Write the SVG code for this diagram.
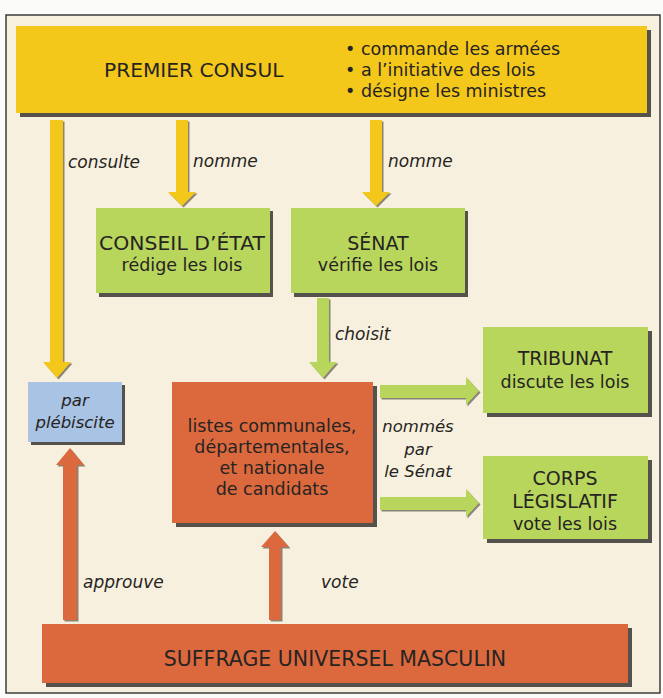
<svg xmlns="http://www.w3.org/2000/svg" width="663" height="698" viewBox="0 0 663 698">
<style>
text{font-family:"DejaVu Sans","Liberation Sans",sans-serif;fill:#262422;}
.t{font-size:19px;text-anchor:middle;}
.r{font-size:17.5px;text-anchor:middle;}
.i{font-size:17px;font-style:italic;}
.ic{font-size:16.5px;font-style:italic;text-anchor:middle;}
.b1{font-size:17.5px;}
.sh{fill:#55524e;}
.y{fill:#f4c71b;}
.g{fill:#b8d65c;}
.o{fill:#dc693e;}
.b{fill:#a9c3e4;}
.ash{fill:#8a8478;}
</style>
<rect x="0" y="0" width="663" height="698" fill="#fbfbfa"/>
<rect x="6" y="15" width="654" height="678" fill="#f7f0de" stroke="#3f3d3b" stroke-width="1.5"/>

<g id="connectors">
  <g transform="translate(1.5,1.5)" class="ash">
    <polygon points="50,120 63,120 63,362 71,362 57,378 43,362 50,362"/>
    <polygon points="176,120 188,120 188,192 196,192 182,206 168,192 176,192"/>
    <polygon points="370,120 382,120 382,192 390,192 376,206 362,192 370,192"/>
    <polygon points="317,298 329,298 329,362 337,362 323,378 309,362 317,362"/>
    <polygon points="380,385 466,385 466,377 479,391 466,405 466,398 380,398"/>
    <polygon points="380,497 466,497 466,489 479,503 466,517 466,510 380,510"/>
    <polygon points="63,620 77,620 77,465 84,465 70,448 56,465 63,465"/>
    <polygon points="269,620 281,620 281,547 289,547 275,531 261,547 269,547"/>
  </g>
  <polygon class="y" points="50,120 63,120 63,362 71,362 57,378 43,362 50,362"/>
  <polygon class="y" points="176,120 188,120 188,192 196,192 182,206 168,192 176,192"/>
  <polygon class="y" points="370,120 382,120 382,192 390,192 376,206 362,192 370,192"/>
  <polygon class="g" points="317,298 329,298 329,362 337,362 323,378 309,362 317,362"/>
  <polygon class="g" points="380,385 466,385 466,377 479,391 466,405 466,398 380,398"/>
  <polygon class="g" points="380,497 466,497 466,489 479,503 466,517 466,510 380,510"/>
  <polygon class="o" points="63,620 77,620 77,465 84,465 70,448 56,465 63,465"/>
  <polygon class="o" points="269,620 281,620 281,547 289,547 275,531 261,547 269,547"/>
  <text class="i" x="68" y="168">consulte</text>
  <text class="i" x="193" y="167">nomme</text>
  <text class="i" x="388" y="167">nomme</text>
  <text class="i" x="335" y="340">choisit</text>
  <text class="ic" x="418" y="432">nommés</text>
  <text class="ic" x="418" y="455">par</text>
  <text class="ic" x="418" y="477">le Sénat</text>
  <text class="i" x="83" y="588">approuve</text>
  <text class="i" x="321" y="588">vote</text>
</g>

<g id="premier-consul">
  <rect class="sh" x="20" y="30" width="631" height="87"/>
  <rect class="y" x="16" y="26" width="631" height="87"/>
  <text x="104" y="77" font-size="20.2">PREMIER CONSUL</text>
  <text class="b1" x="345" y="55">• commande les armées</text>
  <text class="b1" x="345" y="76">• a l’initiative des lois</text>
  <text class="b1" x="345" y="97">• désigne les ministres</text>
</g>

<g id="conseil-etat">
  <rect class="sh" x="99" y="211" width="174" height="86"/>
  <rect class="g" x="96" y="208" width="174" height="85"/>
  <text class="t" x="182" y="250" textLength="166" lengthAdjust="spacingAndGlyphs">CONSEIL D’ÉTAT</text>
  <text class="r" x="182" y="271">rédige les lois</text>
</g>

<g id="senat">
  <rect class="sh" x="294" y="211" width="174" height="86"/>
  <rect class="g" x="291" y="208" width="174" height="85"/>
  <text class="t" x="378" y="250">SÉNAT</text>
  <text class="r" x="378" y="271">vérifie les lois</text>
</g>

<g id="plebiscite">
  <rect class="sh" x="31" y="385" width="94" height="60"/>
  <rect class="b" x="28" y="382" width="94" height="60"/>
  <text class="ic" x="75" y="406" font-size="17.5">par</text>
  <text class="ic" x="75" y="428" font-size="17.5">plébiscite</text>
</g>

<g id="listes">
  <rect class="sh" x="176" y="386" width="201" height="141"/>
  <rect class="o" x="172" y="382" width="201" height="141"/>
  <text class="r" x="272" y="432">listes communales,</text>
  <text class="r" x="272" y="453">départementales,</text>
  <text class="r" x="272" y="474">et nationale</text>
  <text class="r" x="272" y="495">de candidats</text>
</g>

<g id="tribunat">
  <rect class="sh" x="487" y="331" width="165" height="86"/>
  <rect class="g" x="483" y="327" width="165" height="86"/>
  <text class="t" x="565" y="365">TRIBUNAT</text>
  <text class="r" x="565" y="388">discute les lois</text>
</g>

<g id="corps-legislatif">
  <rect class="sh" x="487" y="460" width="165" height="83"/>
  <rect class="g" x="483" y="456" width="165" height="83"/>
  <text class="t" x="565" y="485">CORPS</text>
  <text class="t" x="565" y="508">LÉGISLATIF</text>
  <text class="r" x="565" y="530">vote les lois</text>
</g>

<g id="suffrage">
  <rect class="sh" x="46" y="628" width="586" height="59"/>
  <rect class="o" x="42" y="624" width="586" height="59"/>
  <text x="335" y="666" font-size="20.5" text-anchor="middle">SUFFRAGE UNIVERSEL MASCULIN</text>
</g>
</svg>
